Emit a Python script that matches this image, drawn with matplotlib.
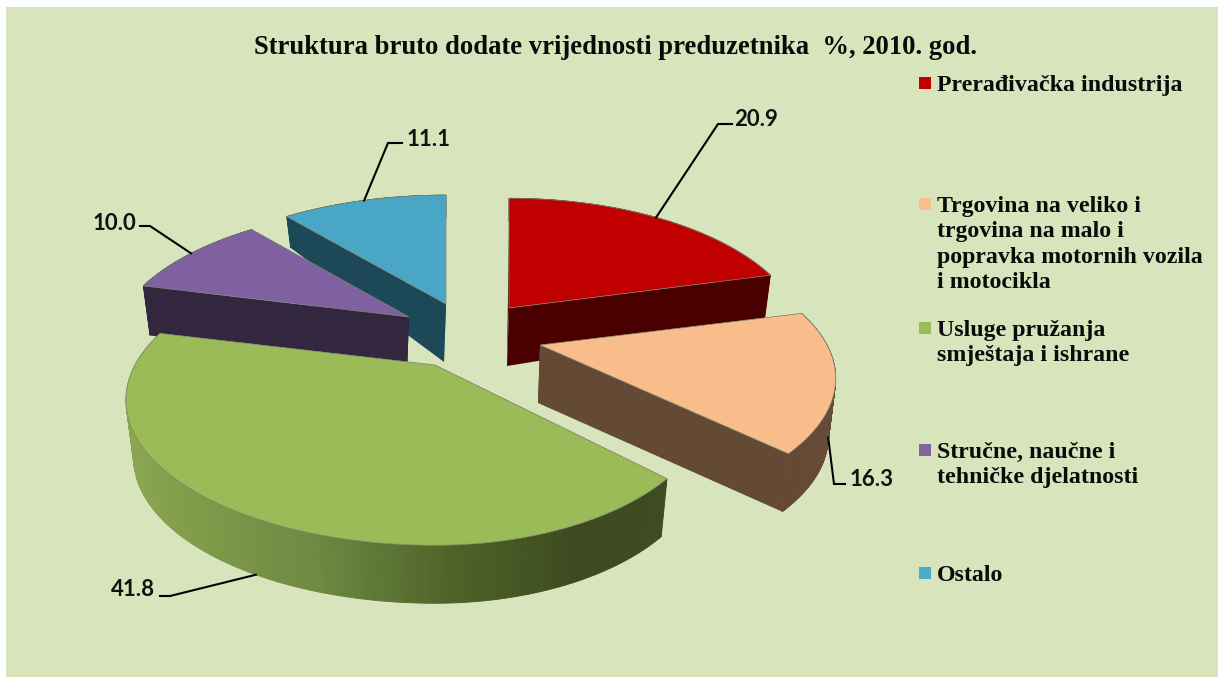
import numpy as np
import matplotlib
matplotlib.use('Agg')
import matplotlib.pyplot as plt
from matplotlib.colors import LinearSegmentedColormap
from matplotlib.patches import Polygon, Rectangle

title = 'Struktura bruto dodate vrijednosti preduzetnika  %, 2010. god.'
categories = ['Prerađivačka industrija',
              'Trgovina na veliko i\ntrgovina na malo i\npopravka motornih vozila\ni motocikla',
              'Usluge pružanja\nsmještaja i ishrane',
              'Stručne, naučne i\ntehničke djelatnosti',
              'Ostalo']
values = [20.9, 16.3, 41.8, 10.0, 11.1]
value_labels = ['20.9', '16.3', '41.8', '10.0', '11.1']

top_colors = ['#c00000', '#f9bd8b', '#9bbb59', '#7f60a1', '#49a6c4']
legend_colors = ['#c00000', '#fac090', '#9bbb59', '#8064a2', '#4bacc6']
wall_colors = [['#4a0000', '#4a0000'],
               ['#6b4f3a', '#644a35'],
               ['#3f4c22', '#3d4a20', '#4d6228', '#6f8a42', '#7f9b49', '#89a550', '#8aa651', '#8aa651'],
               ['#33263f', '#33263f'],
               ['#1d4857', '#1d4857']]

# exploded slices: apex x, apex y, radius right, radius left, radius depth
slice_geom = [(509, 308, 287, 287, 136),
              (540, 345, 287, 287, 131),
              (435, 365, 268, 300, 137),
              (409, 317, 290, 290, 135),
              (446, 304, 294, 294, 135)]
draw_order = [4, 3, 0, 2, 1]

# leader line: elbow x, elbow y, end x, text x, text y, whether it starts on the wall
leaders = [(718, 124, 732, 734, 119, False),
           (834, 484, 845, 850, 480, True),
           (170, 596, 160, 111, 590, True),
           (150, 226, 140, 93, 223, False),
           (388, 143, 402, 407, 139, False)]
legend_y = [85, 206, 330, 452, 575]

persp = 0.24
depth = 58


def project(theta, geom):
    ax_, ay_, rr, rl, ry = geom
    u = np.sin(theta)
    v = -np.cos(theta)
    s = 1 / (1 - persp * v)
    r = np.where(u > 0, rr, rl)
    return ax_ + r * u * s, ay_ + ry * v * s, v


def lower(x, y, v, geom):
    # same point on the bottom side of the slice
    d = depth * np.minimum(1, 1 + 0.6 * v)
    return geom[0] + (x - geom[0]) * 0.975, y + d


def draw_slice(ax, i, start, end):
    geom = slice_geom[i]
    theta = np.linspace(start, end, 240)
    x, y, v = project(theta, geom)
    bx, by = lower(x, y, v, geom)
    apex = (geom[0], geom[1])
    low_apex = (geom[0] - 2, geom[1] + depth)

    cmap = LinearSegmentedColormap.from_list('wall', wall_colors[i])
    ax.add_patch(Polygon([apex, (x[0], y[0]), (bx[0], by[0]), low_apex],
                         fc=cmap(0.0), ec='none'))
    ax.add_patch(Polygon([apex, (x[-1], y[-1]), (bx[-1], by[-1]), low_apex],
                         fc=cmap(1.0), ec='none'))
    for k in range(len(theta) - 1):
        c = cmap(k / (len(theta) - 2))
        ax.add_patch(Polygon([(x[k], y[k]), (x[k + 1], y[k + 1]),
                              (bx[k + 1], by[k + 1]), (bx[k], by[k])],
                             fc=c, ec=c, lw=0.6))
    pts = [apex] + list(zip(x, y))
    ax.add_patch(Polygon(pts, fc=top_colors[i], ec='#7f8a70', lw=0.5))


fig = plt.figure(figsize=(12.18, 6.77), dpi=100, facecolor='white')
ax = fig.add_axes([0, 0, 1, 1])
ax.set_xlim(0, 1218)
ax.set_ylim(677, 0)
ax.axis('off')
ax.add_patch(Rectangle((6, 7), 1212, 670, fc='#d8e4bc', ec='none'))

fracs = np.array(values) / np.sum(values)
edges = np.concatenate([[0], np.cumsum(fracs)]) * 2 * np.pi

for i in draw_order:
    draw_slice(ax, i, edges[i], edges[i + 1])

for i, lab in enumerate(value_labels):
    ex, ey, etx, tx, ty, on_wall = leaders[i]
    mid = (edges[i] + edges[i + 1]) / 2
    sx, sy, v = project(mid, slice_geom[i])
    if on_wall:
        sx, sy = lower(sx, sy, v, slice_geom[i])
    ax.plot([sx, ex, etx], [sy, ey, ey], color='black', lw=1.5, solid_joinstyle='miter', zorder=5)
    ax.text(tx, ty, lab, family='Lato', fontweight='bold', fontsize=16, va='center', ha='left', color='#111111')

ax.text(615, 48, title, family='Liberation Serif', fontweight='bold', fontsize=19.2,
        ha='center', va='center', color='#0a0a0a')

for i, name in enumerate(categories):
    ax.add_patch(Rectangle((919, legend_y[i] - 8), 12, 12, fc=legend_colors[i], ec='none'))
    ax.text(937, legend_y[i] - 10, name, family='Liberation Serif', fontweight='bold', fontsize=17.2,
            ha='left', va='top', linespacing=1.27, color='#0a0a0a')

fig.savefig('out.png', dpi=100)
